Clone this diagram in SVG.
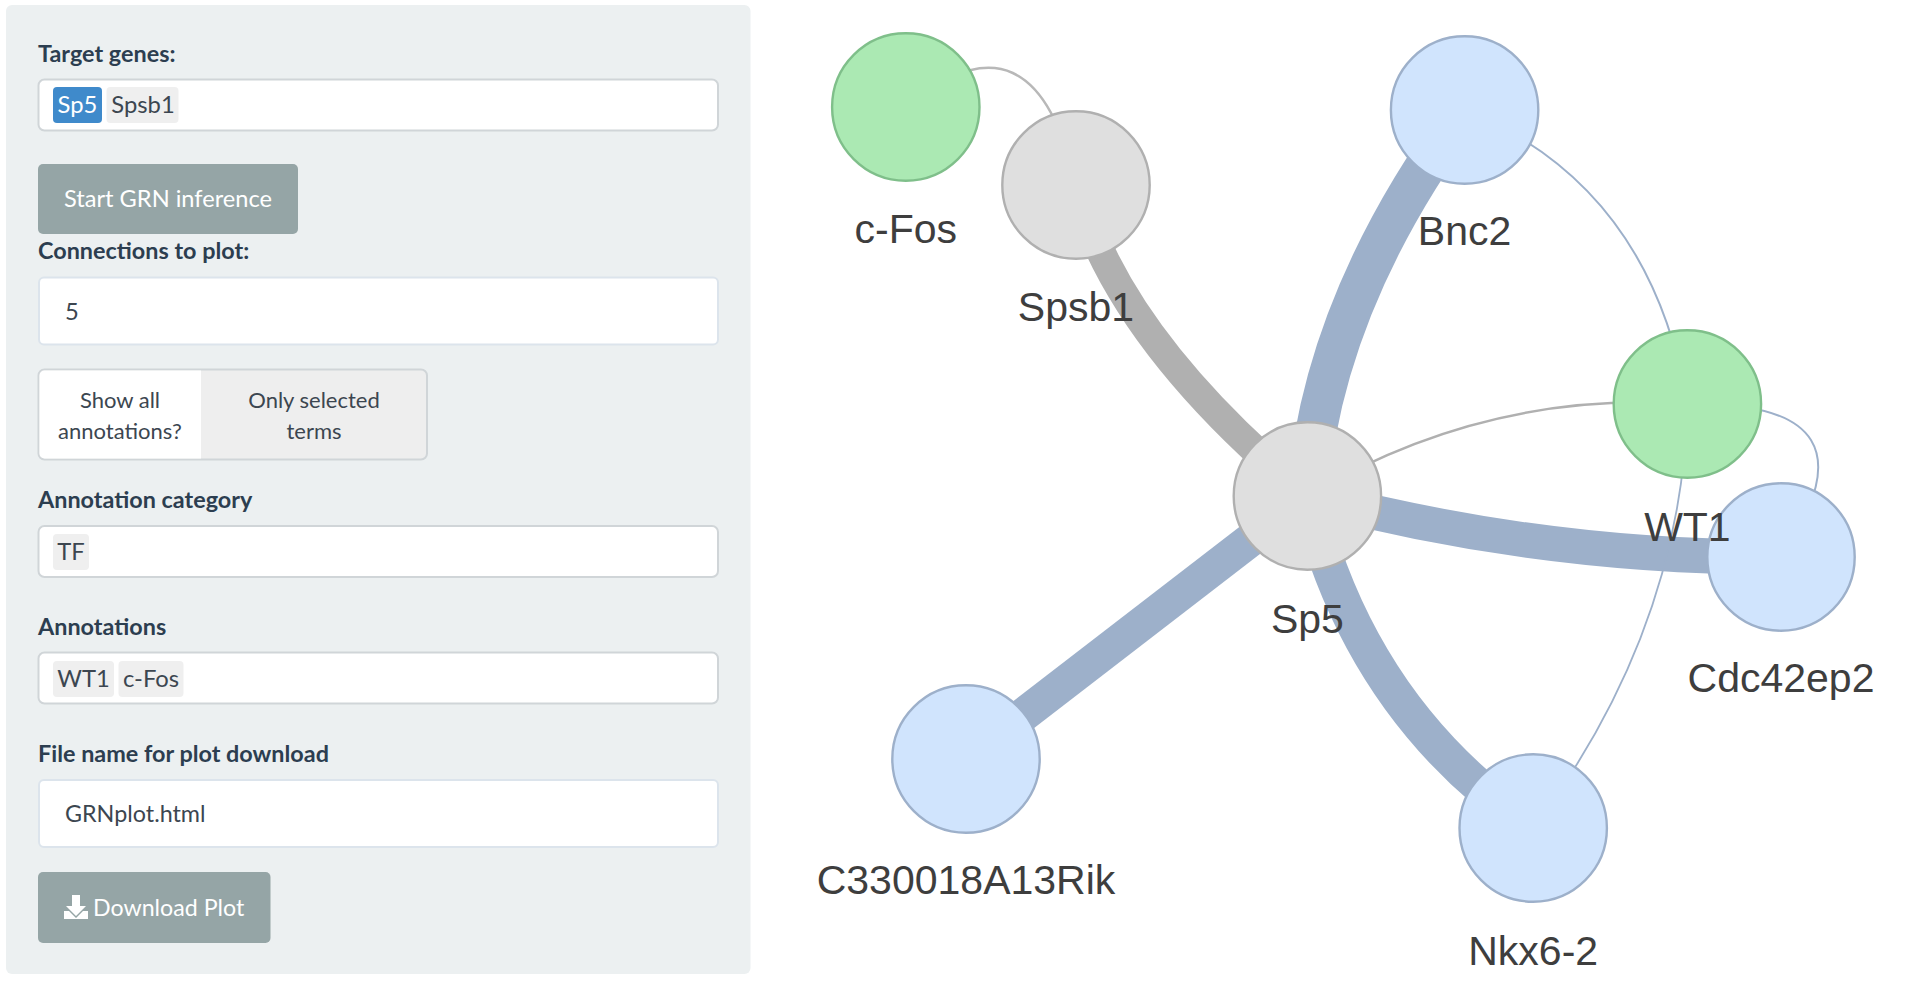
<svg xmlns="http://www.w3.org/2000/svg" width="1913" height="981" viewBox="0 0 1913 981">
<style>
.lab{font:700 23.400px Lato,"Liberation Sans",sans-serif;fill:#2c3e50}
.txt{font:400 22px Lato,"Liberation Sans",sans-serif;fill:#3c4650}
.big{font-size:23.800px}
.mid{text-anchor:middle}
.btn{font:400 23.600px Lato,"Liberation Sans",sans-serif;fill:#fff}
.inp{fill:#fff;stroke:#d0d5d8;stroke-width:2}
.inpl{fill:#fff;stroke:#dce4ec;stroke-width:2}
.chip{fill:#efefef}
.b{fill:#95a5a6}
.n{stroke-width:2.400}
.g{fill:#abe9b3;stroke:#7fbf8a}
.l{fill:#d0e4fd;stroke:#9db0ca}
.y{fill:#dfdfdf;stroke:#b0b0b0}
.nl{font:400 41px "Liberation Sans",Arial,sans-serif;fill:#3e3e3e;text-anchor:middle}
.e{fill:none}
.eg{stroke:#b0b0b0}
.eb{stroke:#9db0ca}
</style>
<rect width="1913" height="981" fill="#fff"/>
<rect x="6" y="5" width="744.500" height="969" rx="6" fill="#ecf0f1"/>
<g id="form">
<text class="lab" x="38" y="62">Target genes:</text>
<rect class="inp" x="38.500" y="79.500" width="679.500" height="51" rx="6"/>
<rect x="53" y="87" width="49" height="36" rx="4" fill="#3f8acb"/>
<text class="txt big mid" x="77.500" y="113" style="fill:#fff">Sp5</text>
<rect class="chip" x="106.500" y="87" width="72" height="36" rx="4"/>
<text class="txt big mid" x="143" y="113">Spsb1</text>
<rect class="b" x="38" y="164" width="260" height="70" rx="5"/>
<text class="btn mid" x="168" y="207">Start GRN inference</text>
<text class="lab" x="38" y="259">Connections to plot:</text>
<rect class="inpl" x="39" y="277.500" width="679" height="67" rx="5"/>
<text class="txt big" x="65" y="320">5</text>
<rect x="38.500" y="369.500" width="388.500" height="90" rx="6" fill="#eee" stroke="#d0d5d8" stroke-width="2"/>
<path d="M201 370.500H44.500a5 5 0 0 0-5 5V453.500a5 5 0 0 0 5 5H201z" fill="#fff"/>
<text class="txt mid" x="120" y="408">Show all</text>
<text class="txt mid" x="120" y="439">annotations?</text>
<text class="txt mid" x="314" y="408">Only selected</text>
<text class="txt mid" x="314" y="439">terms</text>
<text class="lab" x="38" y="508">Annotation category</text>
<rect class="inp" x="38.500" y="526" width="679.500" height="51" rx="6"/>
<rect class="chip" x="53" y="534" width="36" height="36" rx="4"/>
<text class="txt big mid" x="71" y="560">TF</text>
<text class="lab" x="38" y="635">Annotations</text>
<rect class="inp" x="38.500" y="652.500" width="679.500" height="51" rx="6"/>
<rect class="chip" x="53" y="661" width="61" height="36" rx="4"/>
<text class="txt big mid" x="83.500" y="687">WT1</text>
<rect class="chip" x="118.500" y="661" width="65" height="36" rx="4"/>
<text class="txt big mid" x="151" y="687">c-Fos</text>
<text class="lab" x="38" y="762">File name for plot download</text>
<rect class="inpl" x="39" y="780" width="679" height="67" rx="5"/>
<text class="txt" style="font-size:23.300px" x="65" y="822">GRNplot.html</text>
<rect class="b" x="38" y="872" width="232.500" height="71" rx="5"/>
<path d="M72 895h8v11h6l-10 10-10-10h6z M64 911h5l7 7 7-7h5v8H64z" fill="#fff"/>
<text class="btn" style="font-size:23.200px" x="93" y="916">Download Plot</text>
</g>
<g id="connectors" class="e">
<path class="eg" stroke-width="2.500" style="stroke:#b8b8b8" d="M905.400 107Q1035 0 1075.800 185"/>
<path class="eg" stroke-width="29" d="M1075.800 185Q1117 338 1307.400 496"/>
<path class="eb" stroke-width="41" d="M1464.600 110Q1322 303 1307.400 496"/>
<path class="eb" stroke-width="2" d="M1464.600 110Q1650 185 1687.400 404"/>
<path class="eg" stroke-width="2.500" d="M1307.400 496Q1486 390 1687.400 404"/>
<path class="eb" stroke-width="2" d="M1687.400 404Q1888 400 1781 557"/>
<path class="eb" stroke-width="35" d="M1307.400 496Q1544 558.500 1781 557"/>
<path class="eb" stroke-width="35" d="M1307.400 496Q1360 710 1533.200 828"/>
<path class="eb" stroke-width="1.800" d="M1687.400 404Q1682 630 1533.200 828"/>
<path class="eb" stroke-width="34" d="M1307.400 496L966 759"/>
</g>
<g id="node-cfos"><circle class="n g" cx="905.800" cy="107" r="73.700"/><text class="nl" x="905.800" y="243">c-Fos</text></g>
<g id="node-spsb1"><circle class="n y" cx="1076" cy="185" r="73.700"/><text class="nl" x="1076" y="321">Spsb1</text></g>
<g id="node-bnc2"><circle class="n l" cx="1464.600" cy="110" r="73.700"/><text class="nl" x="1464.600" y="245">Bnc2</text></g>
<g id="node-cdc42ep2"><circle class="n l" cx="1781" cy="557" r="73.700"/><text class="nl" x="1781" y="692">Cdc42ep2</text></g>
<g id="node-wt1"><circle class="n g" cx="1687.400" cy="404" r="73.700"/><text class="nl" x="1687.400" y="541">WT1</text></g>
<g id="node-sp5"><circle class="n y" cx="1307.400" cy="496" r="73.700"/><text class="nl" x="1307.400" y="633">Sp5</text></g>
<g id="node-c330018a13rik"><circle class="n l" cx="966" cy="759" r="73.700"/><text class="nl" x="966" y="894">C330018A13Rik</text></g>
<g id="node-nkx6-2"><circle class="n l" cx="1533.200" cy="828" r="73.700"/><text class="nl" x="1533.200" y="965">Nkx6-2</text></g>
</svg>
